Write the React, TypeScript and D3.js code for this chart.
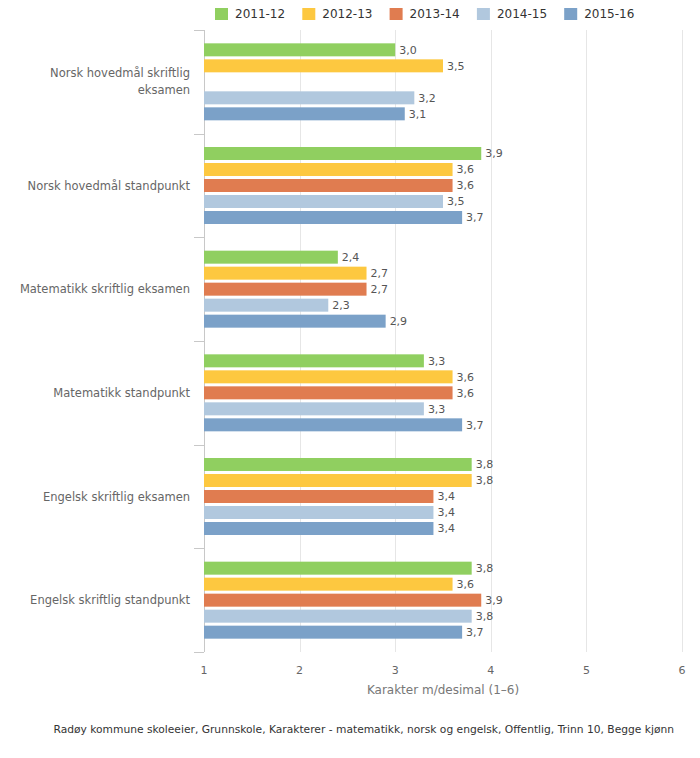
import React from 'react';
import * as d3 from 'd3';

const categories = [
  'Norsk hovedmål skriftlig eksamen',
  'Norsk hovedmål standpunkt',
  'Matematikk skriftlig eksamen',
  'Matematikk standpunkt',
  'Engelsk skriftlig eksamen',
  'Engelsk skriftlig standpunkt',
];

const seriesNames = ['2011-12', '2012-13', '2013-14', '2014-15', '2015-16'];
const seriesColors = ['#90cf60', '#fdc840', '#e07c50', '#b1c8de', '#7ba1c8'];

const v201112 = [3.0, 3.9, 2.4, 3.3, 3.8, 3.8];
const v201213 = [3.5, 3.6, 2.7, 3.6, 3.8, 3.6];
const v201314 = [null, 3.6, 2.7, 3.6, 3.4, 3.9];
const v201415 = [3.2, 3.5, 2.3, 3.3, 3.4, 3.8];
const v201516 = [3.1, 3.7, 2.9, 3.7, 3.4, 3.7];

const seriesValues: (number | null)[][] = [v201112, v201213, v201314, v201415, v201516];

const xTicks = [1, 2, 3, 4, 5, 6];

const font = '"DejaVu Sans", Verdana, sans-serif';

const App: React.FC = () => {
  const width = 700;
  const height = 758;
  const plot = { left: 204, right: 682, top: 30, bottom: 652 };

  const x = d3.scaleLinear().domain([1, 6]).range([plot.left, plot.right]);
  const y = d3.scaleBand<string>().domain(categories).range([plot.top, plot.bottom]);
  const inner = d3
    .scaleBand<string>()
    .domain(seriesNames)
    .range([-40, 40])
    .paddingInner(0.1875)
    .paddingOuter(0.09375);

  const fmt = (v: number) => v.toFixed(1).replace('.', ',');

  const boundaries = d3.range(categories.length + 1).map(i => plot.top + i * y.step());

  const wrapLabel = (label: string): string[] => {
    if (label === 'Norsk hovedmål skriftlig eksamen') return ['Norsk hovedmål skriftlig', 'eksamen'];
    return [label];
  };

  return (
    <svg
      width={width}
      height={height}
      style={{ position: 'absolute', left: 0, top: 0, background: '#fff' }}
      fontFamily={font}
    >
      {/* grid lines */}
      {xTicks.map(t => (
        <line
          key={'g' + t}
          x1={Math.round(x(t)) + 0.5}
          x2={Math.round(x(t)) + 0.5}
          y1={plot.top}
          y2={plot.bottom}
          stroke="#e6e6e6"
          strokeWidth={1}
        />
      ))}

      {/* y axis line and ticks */}
      <line x1={plot.left + 0.5} x2={plot.left + 0.5} y1={plot.top} y2={plot.bottom} stroke="#c8c8c8" />
      {boundaries.map((b, i) => (
        <line key={'t' + i} x1={plot.left - 10} x2={plot.left} y1={Math.round(b) + 0.5} y2={Math.round(b) + 0.5} stroke="#c8c8c8" />
      ))}

      {/* bars */}
      {categories.map((c, ci) => {
        const center = (y(c) as number) + y.bandwidth() / 2;
        return seriesNames.map((s, si) => {
          const v = seriesValues[si][ci];
          if (v === null) return null;
          const by = center + (inner(s) as number);
          return (
            <g key={c + s}>
              <rect x={x(1)} y={by} width={x(v) - x(1)} height={inner.bandwidth()} fill={seriesColors[si]} />
              <text x={x(v) + 4} y={by + inner.bandwidth() / 2} dy="0.35em" fontSize={11} fill="#555">
                {fmt(v)}
              </text>
            </g>
          );
        });
      })}

      {/* category labels */}
      {categories.map(c => {
        const lines = wrapLabel(c);
        const center = (y(c) as number) + y.bandwidth() / 2;
        const lh = 17;
        return (
          <text key={'l' + c} x={plot.left - 14} textAnchor="end" fontSize={11.5} fill="#666">
            {lines.map((ln, i) => (
              <tspan key={i} x={plot.left - 14} y={center - ((lines.length - 1) * lh) / 2 + i * lh} dy="0.35em">
                {ln}
              </tspan>
            ))}
          </text>
        );
      })}

      {/* x tick labels */}
      {xTicks.map(t => (
        <text key={'x' + t} x={x(t)} y={674} textAnchor="middle" fontSize={11} fill="#666">
          {t}
        </text>
      ))}
      <text x={(plot.left + plot.right) / 2} y={694} textAnchor="middle" fontSize={12} fill="#777">
        Karakter m/desimal (1–6)
      </text>

      {/* legend */}
      {seriesNames.map((s, i) => {
        const lx = 215 + i * 87.3;
        return (
          <g key={'lg' + s}>
            <rect x={lx} y={8} width={13} height={12} fill={seriesColors[i]} />
            <text x={lx + 20} y={14} dy="0.35em" fontSize={12} fill="#333">
              {s}
            </text>
          </g>
        );
      })}

      {/* footer */}
      <text x={674} y={733} textAnchor="end" fontSize={10.7} fill="#333">
        Radøy kommune skoleeier, Grunnskole, Karakterer - matematikk, norsk og engelsk, Offentlig, Trinn 10, Begge kjønn
      </text>
    </svg>
  );
};

export default App;
